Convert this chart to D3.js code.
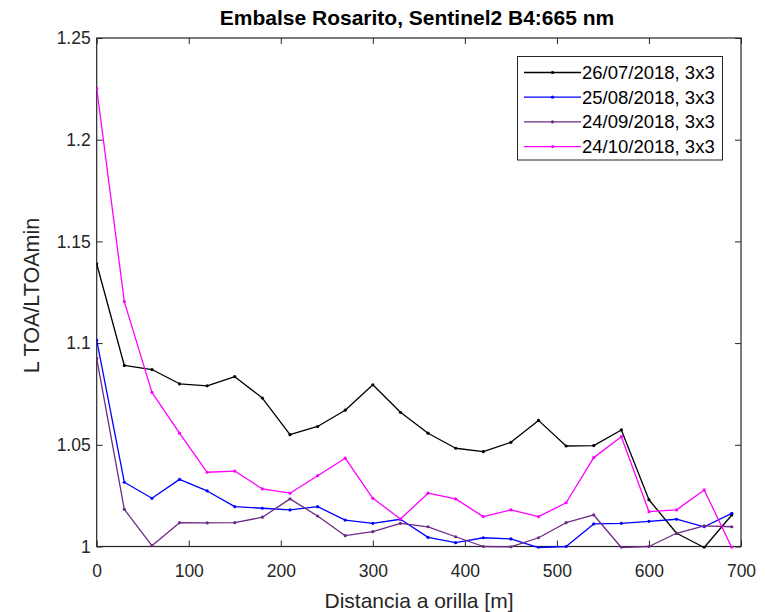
<!DOCTYPE html>
<html><head><meta charset="utf-8">
<script src="https://cdn.jsdelivr.net/npm/d3@7"></script>
<style>body{margin:0;background:#fff}svg{font-family:"Liberation Sans",Arial,Helvetica,sans-serif}</style>
</head><body><svg id="c" width="765" height="612"></svg>
<script>
const distances = [0,30,60,90,120,150,180,210,240,270,300,330,360,390,420,450,480,510,540,570,600,630,660,690];
const s0726 = [1.139,1.089,1.087,1.080,1.079,1.0835,1.073,1.055,1.059,1.067,1.0795,1.066,1.0557,1.0483,1.0466,1.0512,1.062,1.0494,1.0496,1.0573,1.023,1.0065,0.9995,1.0155];
const s0825 = [1.1015,1.0316,1.0237,1.033,1.0273,1.0196,1.0188,1.018,1.0196,1.013,1.0114,1.0134,1.0045,1.0019,1.0043,1.0037,0.9995,1.0,1.0111,1.0114,1.0124,1.0134,1.0097,1.0163];
const s0924 = [1.0925,1.0183,1.0004,1.0117,1.0116,1.0117,1.0144,1.0234,1.015,1.0053,1.0073,1.0114,1.0097,1.0048,1.0,0.9998,1.0043,1.0117,1.0155,0.9995,1.0,1.0065,1.0101,1.0097];
const s1024 = [1.2253,1.1204,1.0758,1.0557,1.0365,1.0371,1.0283,1.0262,1.0348,1.0434,1.0237,1.0135,1.0262,1.0234,1.0147,1.018,1.0147,1.0215,1.0437,1.054,1.0171,1.018,1.0278,0.9995];
const seriesNames = ["26/07/2018, 3x3","25/08/2018, 3x3","24/09/2018, 3x3","24/10/2018, 3x3"];
const seriesColors = ["#000000","#0000ff","#6e2a86","#ff00ff"];
const xTicks = [0,100,200,300,400,500,600,700];
const yTicks = [1,1.05,1.1,1.15,1.2,1.25];
const seriesData = [s0726,s0825,s0924,s1024];

const svg = d3.select("#c");
const L=96.7, R=741, T=38, B=546.5;
const x = d3.scaleLinear().domain([0,700]).range([L,R]);
const y = d3.scaleLinear().domain([1,1.25]).range([B,T]);
const axisColor="#262626";

svg.append("defs").append("clipPath").attr("id","pc").append("rect")
  .attr("x",L).attr("y",T-2).attr("width",R-L).attr("height",B-T+4);

function styleAxis(g){
  g.select(".domain").remove();
  g.selectAll(".tick line").attr("stroke",axisColor);
  g.selectAll(".tick text").attr("fill",axisColor).style("font-size","17.5px");
}
svg.append("g").attr("transform",`translate(0,${B})`)
  .call(d3.axisBottom(x).tickValues(xTicks).tickFormat(d3.format("d")).tickSizeInner(-6).tickPadding(18))
  .call(styleAxis);
svg.append("g").attr("transform",`translate(0,${T})`)
  .call(d3.axisTop(x).tickValues(xTicks).tickFormat("").tickSizeInner(-6))
  .call(styleAxis);
svg.append("g").attr("transform",`translate(${L},0)`)
  .call(d3.axisLeft(y).tickValues(yTicks).tickFormat(d=>String(+d.toFixed(2))).tickSizeInner(-6).tickPadding(6))
  .call(styleAxis);
svg.append("g").attr("transform",`translate(${R},0)`)
  .call(d3.axisRight(y).tickValues(yTicks).tickFormat("").tickSizeInner(-6))
  .call(styleAxis);
svg.append("rect").attr("x",L).attr("y",T).attr("width",R-L).attr("height",B-T)
  .attr("fill","none").attr("stroke",axisColor).attr("stroke-width",1.2);

const line = d3.line().x((d,i)=>x(distances[i])).y(d=>y(d));
const plot = svg.append("g").attr("clip-path","url(#pc)");
seriesData.forEach((s,k)=>{
  plot.append("path").datum(s).attr("d",line).attr("fill","none")
    .attr("stroke",seriesColors[k]).attr("stroke-width",1.3).attr("stroke-linejoin","round");
  plot.selectAll(null).data(s).enter().append("circle")
    .attr("cx",(d,i)=>x(distances[i])).attr("cy",d=>y(d)).attr("r",1.6).attr("fill",seriesColors[k]);
});

svg.append("text").attr("x",417).attr("y",25).attr("text-anchor","middle")
  .style("font-size","21px").style("font-weight","bold").attr("fill","#000").text("Embalse Rosarito, Sentinel2 B4:665 nm");
svg.append("text").attr("x",419).attr("y",608).attr("text-anchor","middle")
  .style("font-size","21px").attr("fill",axisColor).text("Distancia a orilla [m]");
svg.append("text").attr("transform",`translate(38.5,295.5) rotate(-90)`).attr("text-anchor","middle")
  .style("font-size","21.5px").attr("fill",axisColor).text("L TOA/LTOAmin");

const lg = svg.append("g");
lg.append("rect").attr("x",517.5).attr("y",56.5).attr("width",205).attr("height",103.5)
  .attr("fill","#fff").attr("stroke",axisColor).attr("stroke-width",1);
seriesNames.forEach((n,k)=>{
  const yy = 72.5 + k*24.7;
  lg.append("line").attr("x1",524).attr("x2",581).attr("y1",yy).attr("y2",yy)
    .attr("stroke",seriesColors[k]).attr("stroke-width",1.3);
  lg.append("circle").attr("cx",552.5).attr("cy",yy).attr("r",1.6).attr("fill",seriesColors[k]);
  lg.append("text").attr("x",582).attr("y",yy+6.5).style("font-size","18.5px").attr("fill","#000").text(n);
});
</script></body></html>
